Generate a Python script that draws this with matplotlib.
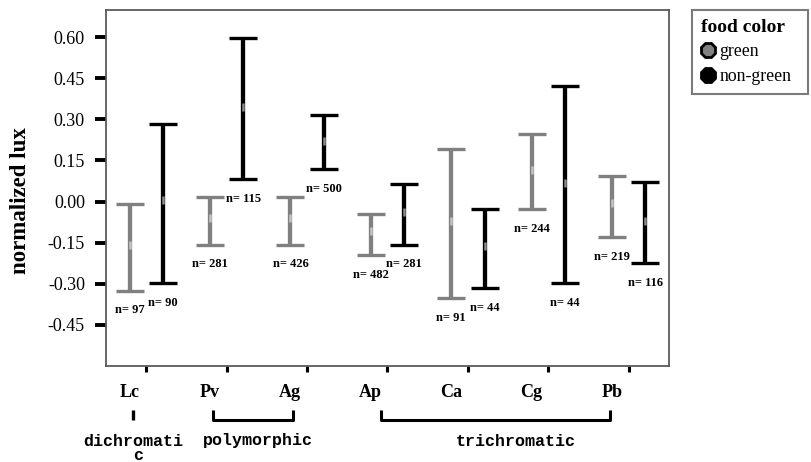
import matplotlib
matplotlib.use("Agg")
import matplotlib.pyplot as plt
import numpy as np
from matplotlib.lines import Line2D
from matplotlib.transforms import blended_transform_factory, ScaledTranslation

# ---------------- data ----------------
categories = ['Lc', 'Pv', 'Ag', 'Ap', 'Ca', 'Cg', 'Pb']
series_names = ['green', 'non-green']

green_mean = [-0.160, -0.060, -0.060, -0.108, -0.070, 0.117, -0.005]
green_low = [-0.326, -0.158, -0.158, -0.195, -0.354, -0.029, -0.131]
green_high = [-0.008, 0.016, 0.016, -0.045, 0.193, 0.248, 0.095]
green_n = [97, 281, 426, 482, 91, 244, 219]

nongreen_mean = [0.004, 0.345, 0.223, -0.039, -0.161, 0.067, -0.070]
nongreen_low = [-0.299, 0.082, 0.118, -0.158, -0.317, -0.299, -0.226]
nongreen_high = [0.283, 0.598, 0.316, 0.065, -0.027, 0.422, 0.071]
nongreen_n = [90, 115, 500, 281, 44, 44, 116]

yticks = [-0.45, -0.30, -0.15, 0.00, 0.15, 0.30, 0.45, 0.60]
ytick_labels = ['-0.45', '-0.30', '-0.15', '0.00', '0.15', '0.30', '0.45', '0.60']

group_names = ['dichromati', 'polymorphic', 'trichromatic']
group_start = [0, 1, 3]
group_end = [0, 2, 6]

# ---------------- figure ----------------
plt.rcParams['font.family'] = ['Liberation Serif', 'DejaVu Serif']
W, H = 812, 462
fig = plt.figure(figsize=(W / 100, H / 100), dpi=100)
ax = fig.add_axes([106 / W, 1 - 365.7 / H, (669 - 106) / W, (365.7 - 10) / H])

x = np.arange(len(categories))
off = 0.207
gray = '#808080'

def draw(xpos, mean, low, high, color, mcolor, ns):
    mean = np.array(mean); low = np.array(low); high = np.array(high)
    ax.errorbar(xpos, mean, yerr=[mean - low, high - mean], fmt='none',
                ecolor=color, elinewidth=3.1, capsize=10.4, capthick=2.4, zorder=3)
    ax.plot(xpos, mean, ls='none', marker='|', ms=6, mew=1.8, color=mcolor, zorder=4)
    for xi, lo, n in zip(xpos, low, ns):
        ax.annotate(f'n= {n}', (xi, lo), xytext=(0, -14.2), textcoords='offset points',
                    ha='center', va='center', fontsize=9, fontweight='bold', color='black')

draw(x - off, green_mean, green_low, green_high, gray, '#c4c4c4', green_n)
draw(x + off, nongreen_mean, nongreen_low, nongreen_high, 'black', '#8a8a8a', nongreen_n)

ax.set_xlim(-0.5, 6.5)
ax.set_ylim(-0.6, 0.7)
ax.set_yticks(yticks)
ax.set_yticklabels(ytick_labels, fontsize=13)
ax.set_xticks(x)
ax.set_xticklabels(categories, fontsize=13, fontweight='bold')
ax.tick_params(axis='y', length=8.2, width=2.8, color='black', pad=7, direction='out')
ax.tick_params(axis='x', length=4.3, width=2.2, color='black', pad=9, direction='out')
shift = ScaledTranslation(-17 / 100, 0, fig.dpi_scale_trans)
for lab in ax.get_xticklabels():
    lab.set_transform(lab.get_transform() + shift)
for s in ax.spines.values():
    s.set_color('#5a5a5a')
    s.set_linewidth(1.3)
ax.set_ylabel('normalized lux', fontsize=16.5, fontweight='bold')
ax.yaxis.set_label_coords((31 - 106) / 563, (365.7 - 201) / 355.7)

# ---------------- group brackets ----------------
tr = blended_transform_factory(ax.transData, fig.transFigure)
y_top = 1 - 410 / H
y_bot = 1 - 419.5 / H
start_off = [-0.16, -0.17, -0.08]
end_off = [-0.16, -0.18, -0.23]
text_x_off = [0.0, 0.06, 0.25]
for name, s, e, so, eo, to in zip(group_names, group_start, group_end, start_off, end_off, text_x_off):
    xs = s + so; xe = e + eo
    if s == e:
        line = Line2D([xs, xs], [y_top, y_bot], transform=tr, color='black', lw=2.4,
                      solid_capstyle='butt')
    else:
        line = Line2D([xs, xs, xe, xe], [y_top, y_bot, y_bot, y_top], transform=tr,
                      color='black', lw=2.2, solid_joinstyle='round', solid_capstyle='butt')
    line.set_clip_on(False)
    fig.add_artist(line)
    fig.text((xs + xe) / 2 + to, 1 - 441 / H, name, transform=tr, ha='center', va='center',
             fontsize=12, family='Liberation Mono', fontweight='bold')
# wrapped last letter of "dichromatic"
fig.text(-0.10, 1 - 455 / H, 'c', transform=tr, ha='center', va='center',
         fontsize=12, family='Liberation Mono', fontweight='bold')

# ---------------- legend ----------------
handles = [Line2D([], [], ls='none', marker='8', ms=11.5, mfc=gray, mec='black', mew=2),
           Line2D([], [], ls='none', marker='8', ms=11.5, mfc='black', mec='black', mew=2)]
leg = fig.legend(handles, series_names, loc='upper left',
                 bbox_to_anchor=(692 / W, 1 - 93 / H, 116 / W, 83 / H), mode='expand',
                 bbox_transform=fig.transFigure, frameon=True, fancybox=False, shadow=False,
                 fontsize=12.8, title='food color', alignment='left',
                 title_fontproperties={'weight': 'bold', 'size': 14, 'family': 'Liberation Serif'},
                 handlelength=0.85, handletextpad=0.2, borderpad=0.5, labelspacing=0.42,
                 borderaxespad=0, markerscale=1)
leg.get_frame().set_edgecolor('#5a5a5a')
leg.get_frame().set_linewidth(1.5)

fig.savefig('out.png', dpi=100)
